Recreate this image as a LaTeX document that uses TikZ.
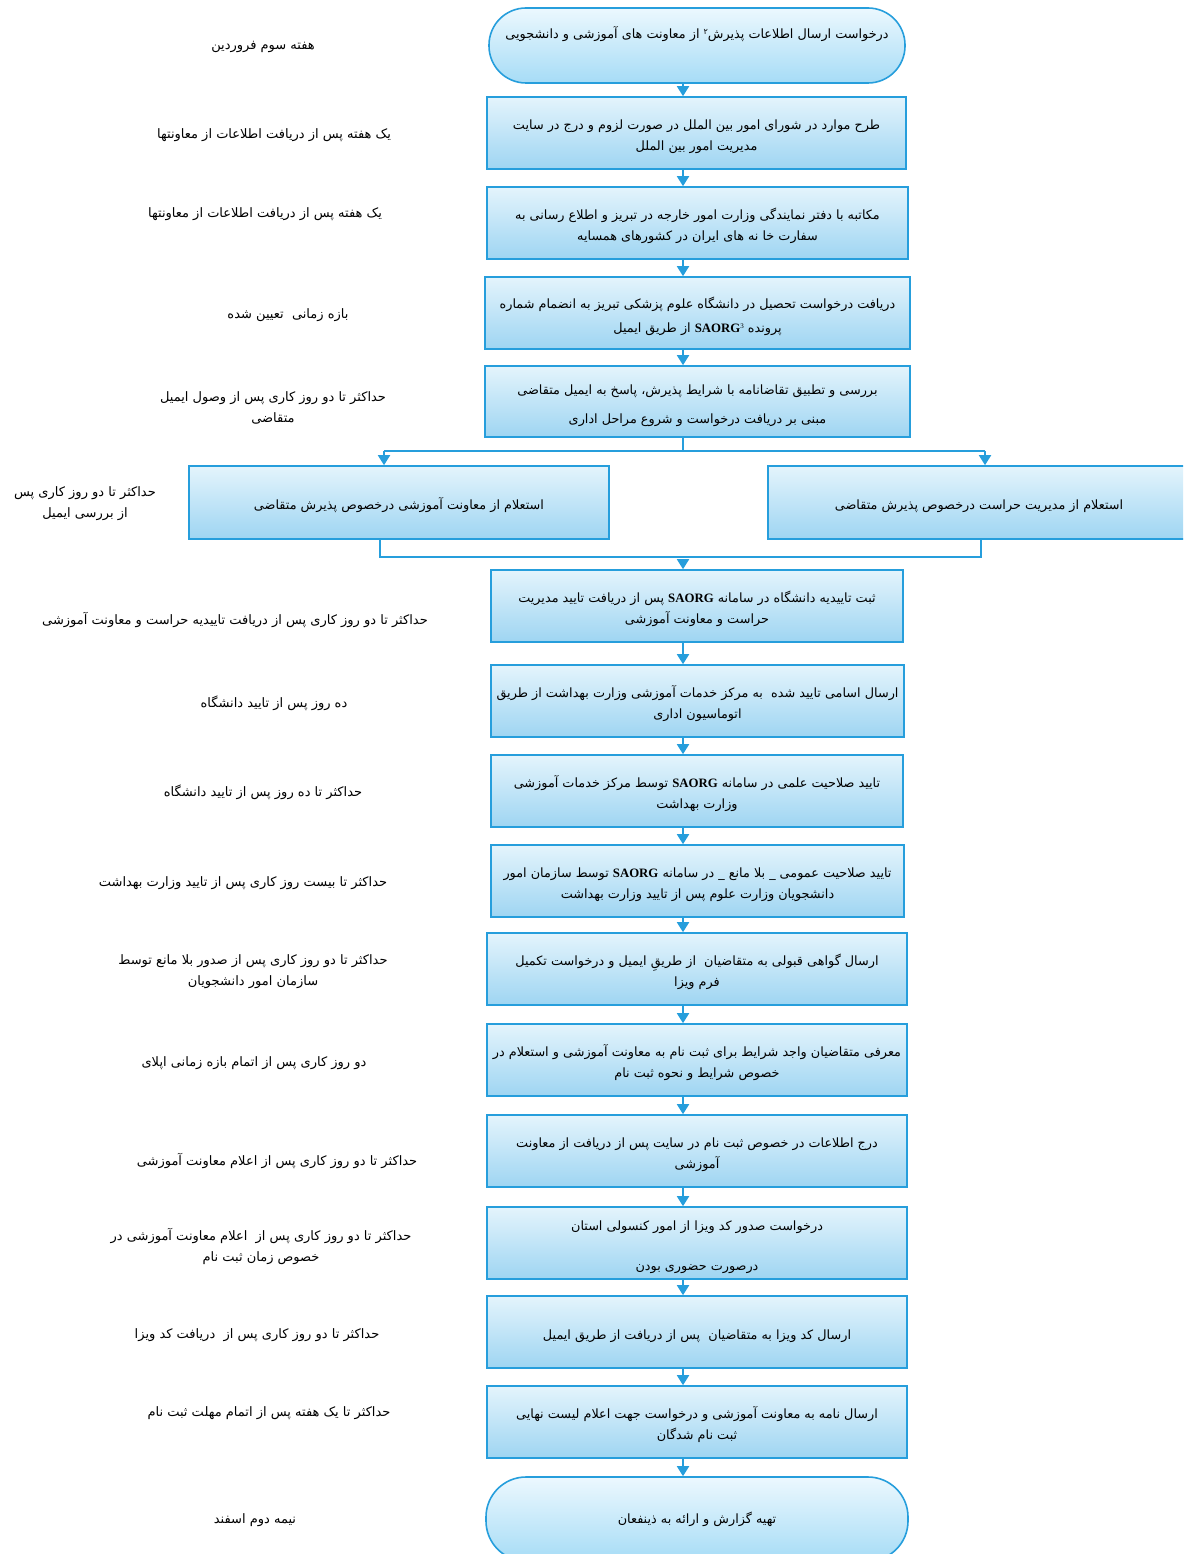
\documentclass[tikz,border=0pt]{standalone}
\usepackage{fontspec}
\usetikzlibrary{arrows.meta}
\TeXXeTstate=1
\newfontfamily\fafont[Script=Arabic]{DejaVu Sans}
\newfontfamily\latf{Liberation Serif}
\newcommand{\fa}[1]{\beginR #1\endR}
\newcommand{\fr}{\rule{0pt}{18pt}}
\newcommand{\sao}{{\latf\bfseries SAORG}}
\definecolor{lblue}{RGB}{38,158,220}
\definecolor{ftop}{RGB}{228,244,252}
\definecolor{fbot}{RGB}{158,213,242}
\definecolor{ttop}{RGB}{236,248,254}
\definecolor{tbot}{RGB}{166,220,246}
\tikzset{
  box/.style={draw=lblue, line width=1.6pt, top color=ftop, bottom color=fbot,
    minimum height=72pt, inner sep=0pt, align=center,
    font=\fafont\fontsize{12.8}{21}\selectfont},
  term/.style={box, top color=ttop, bottom color=tbot, rounded corners=37pt},
  lab/.style={align=center, inner sep=0pt, font=\fafont\fontsize{13}{21}\selectfont},
  conn/.style={draw=lblue, line width=1.8pt},
  arr/.style={conn, -{Triangle[width=12pt,length=10pt]}}
}
\begin{document}
\begin{tikzpicture}[x=1pt,y=-1pt]
\useasboundingbox (0,0) rectangle (1183,1554);
\clip (0,0) rectangle (1183,1554);
\coordinate (sp) at (683,0);
% main column
\node[term, minimum width=416pt, minimum height=75pt, text depth=26pt] (t1) at (697,45.5) {\fa{درخواست ارسال اطلاعات پذیرش\raisebox{0.6ex}{\fontsize{8}{8}\selectfont ۲} از معاونت های آموزشی و دانشجویی}};
\node[box, minimum width=419pt] (b2) at (696.5,133) {\fr\fa{طرح موارد در شورای امور بین الملل در صورت لزوم و درج در سایت}\\\fa{مدیریت امور بین الملل}};
\node[box, minimum width=421pt] (b3) at (697.5,223) {\fr\fa{مکاتبه با دفتر نمایندگی وزارت امور خارجه در تبریز و اطلاع رسانی به}\\\fa{سفارت خا نه های ایران در کشورهای همسایه}};
\node[box, minimum width=425pt] (b4) at (697.5,313) {\fr\fa{دریافت درخواست تحصیل در دانشگاه علوم پزشکی تبریز به انضمام شماره}\\[3pt]\fa{پرونده \beginL\sao\raisebox{0.6ex}{\fontsize{7}{7}\selectfont\latf 3}\endL{} از طریق ایمیل}};
\node[box, minimum width=425pt, minimum height=71pt] (b5) at (697.5,401.5) {\fr\fa{بررسی و تطبیق تقاضانامه با شرایط پذیرش، پاسخ به ایمیل متقاضی}\\[8pt]\fa{مبنی بر دریافت درخواست و شروع مراحل اداری}};
% parallel boxes
\node[box, minimum width=420pt, minimum height=73pt] (p1) at (399,502.5) {\fr\fa{استعلام از معاونت آموزشی درخصوص پذیرش متقاضی}};
\node[box, minimum width=422pt, minimum height=73pt] (p2) at (979,502.5) {\fr\fa{استعلام از مدیریت حراست درخصوص پذیرش متقاضی}};
\node[box, minimum width=412pt] (b6) at (697,606) {\fr\fa{ثبت تاییدیه دانشگاه در سامانه \sao{} پس از دریافت تایید مدیریت}\\\fa{حراست و معاونت آموزشی}};
\node[box, minimum width=413pt] (b7) at (697.5,701) {\fr\fa{ارسال اسامی تایید شده\ \ به مرکز خدمات آموزشی وزارت بهداشت از طریق}\\\fa{اتوماسیون اداری}};
\node[box, minimum width=412pt] (b8) at (697,791) {\fr\fa{تایید صلاحیت علمی در سامانه \sao{} توسط مرکز خدمات آموزشی}\\\fa{وزارت بهداشت}};
\node[box, minimum width=413pt] (b9) at (697.5,881) {\fr\fa{تایید صلاحیت عمومی \_ بلا مانع \_ در سامانه \sao{} توسط سازمان امور}\\\fa{دانشجویان وزارت علوم پس از تایید وزارت بهداشت}};
\node[box, minimum width=420pt] (b10) at (697,969) {\fr\fa{ارسال گواهی قبولی به متقاضیان\ \ از طریقِ ایمیل و درخواست تکمیل}\\\fa{فرم ویزا}};
\node[box, minimum width=420pt] (b11) at (697,1060) {\fr\fa{معرفی متقاضیان واجد شرایط برای ثبت نام به معاونت آموزشی و استعلام در}\\\fa{خصوص شرایط و نحوه ثبت نام}};
\node[box, minimum width=420pt] (b12) at (697,1151) {\fr\fa{درج اطلاعات در خصوص ثبت نام در سایت پس از دریافت از معاونت}\\\fa{آموزشی}};
\node[box, minimum width=420pt] (b13) at (697,1243) {\fr\fa{درخواست صدور کد ویزا از امور کنسولی استان}\\[19pt]\fa{درصورت حضوری بودن}};
\node[box, minimum width=420pt] (b14) at (697,1332) {\fr\fa{ارسال کد ویزا به متقاضیان\ \ پس از دریافت از طریق ایمیل}};
\node[box, minimum width=420pt] (b15) at (697,1422) {\fr\fa{ارسال نامه به معاونت آموزشی و درخواست جهت اعلام لیست نهایی}\\\fa{ثبت نام شدگان}};
\node[term, minimum width=422pt, minimum height=84pt, rounded corners=40pt] (t2) at (697,1519) {\fa{تهیه گزارش و ارائه به ذینفعان}};
% connectors
\draw[arr] (t1.south -| sp) -- (b2.north -| sp);
\draw[arr] (b2.south -| sp) -- (b3.north -| sp);
\draw[arr] (b3.south -| sp) -- (b4.north -| sp);
\draw[arr] (b4.south -| sp) -- (b5.north -| sp);
\coordinate (sl) at (384,451);
\coordinate (sr) at (985,451);
\draw[conn] (b5.south -| sp) -- (sl -| sp);
\draw[conn] (sl) -- (sr);
\draw[arr] (sl) -- (sl |- p1.north);
\draw[arr] (sr) -- (sr |- p2.north);
\coordinate (ml) at (380,557);
\coordinate (mr) at (981,557);
\draw[conn] (p1.south -| ml) -- (ml) -- (mr) -- (p2.south -| mr);
\draw[arr] ([yshift=-3pt]ml -| sp) -- (b6.north -| sp);
\draw[arr] (b6.south -| sp) -- (b7.north -| sp);
\draw[arr] (b7.south -| sp) -- (b8.north -| sp);
\draw[arr] (b8.south -| sp) -- (b9.north -| sp);
\draw[arr] (b9.south -| sp) -- (b10.north -| sp);
\draw[arr] (b10.south -| sp) -- (b11.north -| sp);
\draw[arr] (b11.south -| sp) -- (b12.north -| sp);
\draw[arr] (b12.south -| sp) -- (b13.north -| sp);
\draw[arr] (b13.south -| sp) -- (b14.north -| sp);
\draw[arr] (b14.south -| sp) -- (b15.north -| sp);
\draw[arr] (b15.south -| sp) -- (t2.north -| sp);
% time labels
\node[lab] (l1) at (263,47) {\fa{هفته سوم فروردین}};
\node[lab] (l2) at (274,135) {\fa{یک هفته پس از دریافت اطلاعات از معاونتها}};
\node[lab] (l3) at (265,214) {\fa{یک هفته پس از دریافت اطلاعات از معاونتها}};
\node[lab] (l4) at (288,315) {\fa{بازه زمانی\ \ تعیین شده}};
\node[lab] (l5) at (273,407.5) {\fa{حداکثر تا دو روز کاری پس از وصول ایمیل}\\\fa{متقاضی}};
\node[lab] (l6) at (85,504) {\fa{حداکثر تا دو روز کاری پس}\\\fa{از بررسی ایمیل}};
\node[lab] (l7) at (235,620) {\fa{حداکثر تا دو روز کاری پس از دریافت تاییدیه حراست و معاونت آموزشی}};
\node[lab] (l8) at (274,703) {\fa{ده روز پس از تایید دانشگاه}};
\node[lab] (l9) at (263,792) {\fa{حداکثر تا ده روز پس از تایید دانشگاه}};
\node[lab] (l10) at (243,883) {\fa{حداکثر تا بیست روز کاری پس از تایید وزارت بهداشت}};
\node[lab] (l11) at (253,971.5) {\fa{حداکثر تا دو روز کاری پس از صدور بلا مانع توسط}\\\fa{سازمان امور دانشجویان}};
\node[lab] (l12) at (254,1063) {\fa{دو روز کاری پس از اتمام بازه زمانی اپلای}};
\node[lab] (l13) at (277,1161) {\fa{حداکثر تا دو روز کاری پس از اعلام معاونت آموزشی}};
\node[lab] (l14) at (261,1246.5) {\fa{حداکثر تا دو روز کاری پس از\ \ اعلام معاونت آموزشی در}\\\fa{خصوص زمان ثبت نام}};
\node[lab] (l15) at (257,1335) {\fa{حداکثر تا دو روز کاری پس از\ \ دریافت کد ویزا}};
\node[lab] (l16) at (269,1413) {\fa{حداکثر تا یک هفته پس از اتمام مهلت ثبت نام}};
\node[lab] (l17) at (255,1520) {\fa{نیمه دوم اسفند}};
\end{tikzpicture}
\end{document}
